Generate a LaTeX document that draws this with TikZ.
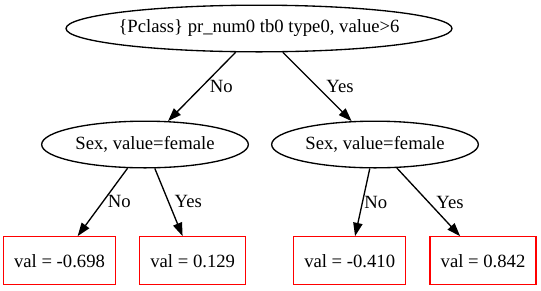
\documentclass[tikz,border=0pt]{standalone}
\usepackage{fontspec}
\setmainfont{Liberation Serif}
\usetikzlibrary{shapes.geometric,arrows.meta}

\begin{document}
\begin{tikzpicture}[x=0.75pt, y=-0.75pt, line width=1pt,
    font=\fontsize{14pt}{16pt}\selectfont,
    split/.style={draw, ellipse, inner sep=0pt, minimum height=35pt},
    leaf/.style={draw=red, rectangle, inner xsep=8pt, inner ysep=0pt,
      minimum height=36pt},
    lab/.style={inner sep=0pt, anchor=base},
    edge/.style={-{Triangle[length=10pt, width=7pt]}}]
  \useasboundingbox (0,0) rectangle (541,290);
  % level heights
  \def\yA{28.5} \def\yB{144.5} \def\yC{260.8}
  % ---- split nodes ----------------------------------------------------
  \node[split, inner xsep=-3pt, minimum width=288pt] (root) at (259,\yA)
    {\{Pclass\} pr\_num0 tb0 type0, value>6};
  \node[split, minimum width=155pt] (sexL) at (145,\yB) {Sex, value=female};
  \node[split, minimum width=155pt] (sexR) at (375,\yB) {Sex, value=female};
  % ---- leaves ---------------------------------------------------------
  \node[leaf] (leafA) at (59.5,\yC)  {val = -0.698};
  \node[leaf] (leafB) at (192.7,\yC) {val = 0.129};
  \node[leaf] (leafC) at (349.7,\yC) {val = -0.410};
  \node[leaf] (leafD) at (483,\yC)   {val = 0.842};
  % ---- edges with their labels ---------------------------------------
  \foreach \a/\b/\t/\lx/\ly in {root/sexL/No/221.3/92, root/sexR/Yes/340/92,
      sexL/leafA/No/119.2/207.5, sexL/leafB/Yes/188.3/207.5,
      sexR/leafC/No/375.8/208, sexR/leafD/Yes/450/208}{
    \draw[edge] (\a) -- (\b);
    \node[lab] (lab-\b) at (\lx,\ly) {\t};
  }
\end{tikzpicture}
\end{document}
